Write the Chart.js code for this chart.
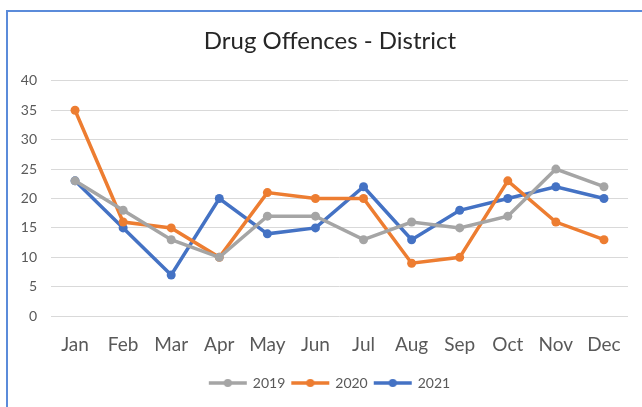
<!DOCTYPE html>
<html>
<head>
<meta charset="utf-8">
<script src="https://cdn.jsdelivr.net/npm/chart.js@4/dist/chart.umd.min.js"></script>
<style>
  html, body { margin: 0; padding: 0; background: #fff; }
  #wrap { position: relative; width: 642px; height: 407px; overflow: hidden; }
  #frame { position: absolute; left: 6px; top: 10px; width: 700px; height: 500px; border-left: 2px solid #5B8BDA; border-top: 2px solid #5B8BDA; box-sizing: border-box; }
  canvas { position: absolute; left: 0; top: 0; }
</style>
</head>
<body>
<div id="wrap">
  <div id="frame"></div>
  <canvas id="c" width="660" height="407"></canvas>
</div>
<script>
const months = ['Jan','Feb','Mar','Apr','May','Jun','Jul','Aug','Sep','Oct','Nov','Dec'];
const seriesNames = ['2019','2020','2021'];
const values2019 = [23, 18, 13, 10, 17, 17, 13, 16, 15, 17, 25, 22];
const values2020 = [35, 16, 15, 10, 21, 20, 20, 9, 10, 23, 16, 13];
const values2021 = [23, 15, 7, 20, 14, 15, 22, 13, 18, 20, 22, 20];
const yTicks = { min: 0, max: 40, step: 5 };
const colors = ['#A5A5A5', '#ED7D31', '#4472C4'];

const FONT = 'Lato, "Open Sans", sans-serif';

function legendIcon(color) {
  const cv = document.createElement('canvas');
  cv.width = 42; cv.height = 10;
  const g = cv.getContext('2d');
  g.strokeStyle = color; g.lineWidth = 3.5; g.lineCap = 'butt';
  g.beginPath(); g.moveTo(2, 5); g.lineTo(40, 5); g.stroke();
  g.fillStyle = color; g.beginPath(); g.arc(21, 5, 4, 0, Math.PI * 2); g.fill();
  return cv;
}

const allValues = [values2019, values2020, values2021];
const datasets = seriesNames.map((name, i) => ({
  label: name,
  data: allValues[i],
  borderColor: colors[i],
  backgroundColor: colors[i],
  borderWidth: 3.5,
  pointRadius: 4.5,
  pointBackgroundColor: colors[i],
  pointBorderColor: colors[i],
  pointBorderWidth: 0,
  tension: 0,
  yAxisID: 'y'
}));

new Chart(document.getElementById('c'), {
  type: 'line',
  data: { labels: months, datasets },
  options: {
    responsive: false,
    animation: false,
    devicePixelRatio: 1,
    layout: { padding: { left: 12, right: 12, top: 0, bottom: 7 } },
    plugins: {
      title: {
        display: true,
        text: 'Drug Offences - District',
        color: '#262626',
        font: { family: FONT, size: 24, weight: 'normal' },
        padding: { top: 27, bottom: 25 }
      },
      legend: {
        position: 'bottom',
        labels: {
          color: '#595959',
          font: { family: FONT, size: 14 },
          usePointStyle: true,
          pointStyleWidth: 36,
          boxHeight: 10,
          padding: 7,
          generateLabels(chart) {
            const items = Chart.defaults.plugins.legend.labels.generateLabels(chart);
            items.forEach((it, i) => { it.pointStyle = legendIcon(colors[i]); });
            return items;
          }
        }
      },
      tooltip: { enabled: false }
    },
    scales: {
      x: {
        offset: true,
        grid: { display: false, drawTicks: false },
        border: { display: false },
        ticks: { color: '#595959', font: { family: FONT, size: 19 }, padding: 17 },
        afterFit(scale) { scale.height = scale.height - 4; }
      },
      y: {
        min: yTicks.min, max: yTicks.max,
        grid: { color: '#D9D9D9', lineWidth: 1, drawTicks: false },
        border: { display: false },
        ticks: { stepSize: yTicks.step, color: '#595959', font: { family: FONT, size: 14 }, padding: 14 },
        afterFit(scale) { scale.width = 39; }
      },
      spacer: {
        position: 'right',
        min: yTicks.min, max: yTicks.max,
        grid: { display: false, drawTicks: false },
        border: { display: false },
        ticks: { display: false },
        afterFit(scale) { scale.width = 20; }
      }
    }
  }
});
</script>
</body>
</html>
